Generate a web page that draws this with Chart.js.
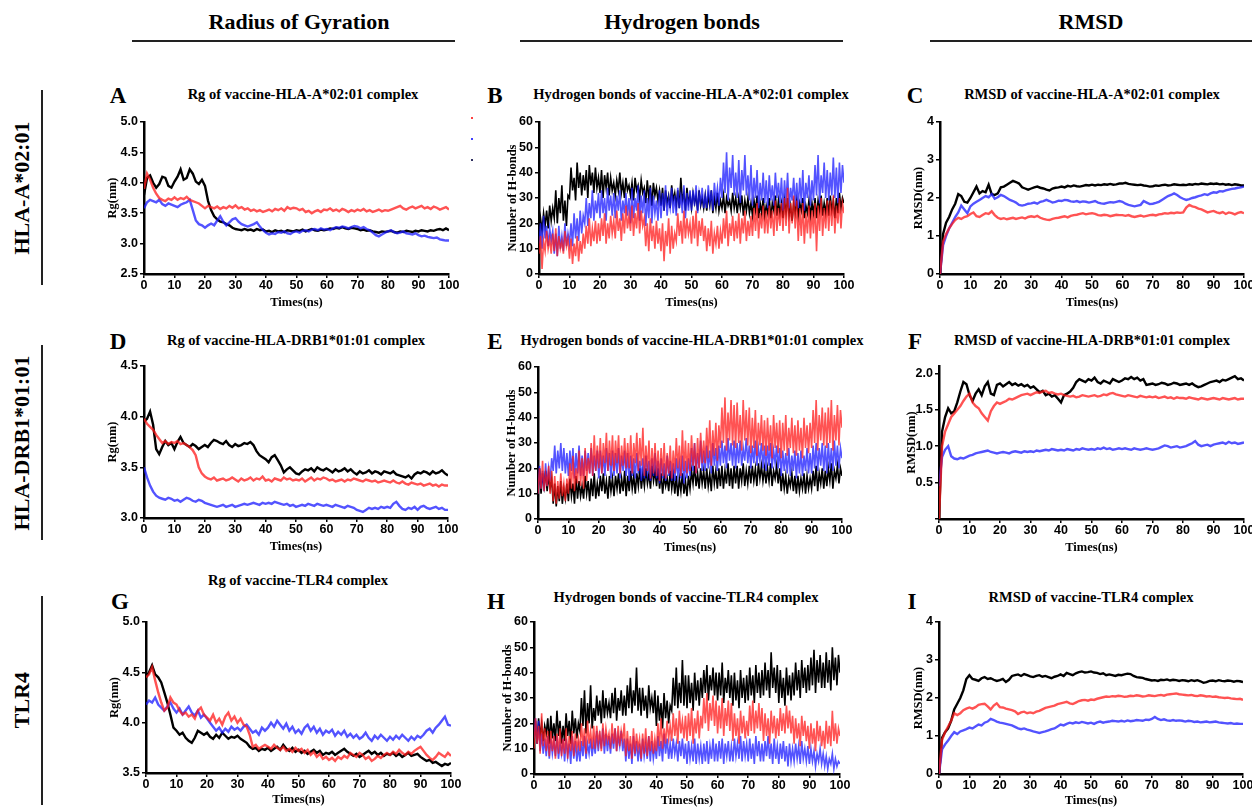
<!DOCTYPE html>
<html>
<head>
<meta charset="utf-8">
<script src="https://cdn.jsdelivr.net/npm/chart.js@4.4.1/dist/chart.umd.min.js"></script>
<style>
body { margin: 0; background: #fff; }
#page { position: relative; width: 1252px; height: 809px; overflow: hidden; font-family: "Liberation Serif", "Times New Roman", serif; color: #000; }
.t { position: absolute; white-space: nowrap; font-weight: bold; transform: translate(-50%, -50%); }
.head { font-size: 22px; }
.ptitle { font-size: 14.5px; }
.letter { font-size: 23px; }
.row { font-size: 22px; transform: translate(-50%, -50%) rotate(-90deg); }
.hl { position: absolute; height: 2px; background: #222; }
.vl { position: absolute; width: 1.5px; background: #222; }
.dot { position: absolute; width: 2px; height: 2px; }
canvas { position: absolute; }
</style>
</head>
<body>
<div id="page">
  <div class="t head" style="left:299px;top:22px">Radius of Gyration</div>
  <div class="t head" style="left:682px;top:22px">Hydrogen bonds</div>
  <div class="t head" style="left:1091px;top:22px">RMSD</div>
  <div class="hl" style="left:132px;top:40px;width:323px"></div>
  <div class="hl" style="left:520px;top:40px;width:323px"></div>
  <div class="hl" style="left:930px;top:40px;width:322px"></div>

  <div class="t row" style="left:22px;top:188px">HLA-A*02:01</div>
  <div class="t row" style="left:22px;top:443px">HLA-DRB1*01:01</div>
  <div class="t row" style="left:22px;top:700px">TLR4</div>
  <div class="vl" style="left:41px;top:90px;height:195px"></div>
  <div class="vl" style="left:41px;top:345px;height:195px"></div>
  <div class="vl" style="left:41px;top:596px;height:209px"></div>

  <div class="t letter" style="left:118px;top:96px">A</div>
  <div class="t letter" style="left:495px;top:96px">B</div>
  <div class="t letter" style="left:915px;top:96px">C</div>
  <div class="t letter" style="left:118px;top:342px">D</div>
  <div class="t letter" style="left:495px;top:342px">E</div>
  <div class="t letter" style="left:915px;top:342px">F</div>
  <div class="t letter" style="left:120px;top:602px">G</div>
  <div class="t letter" style="left:496px;top:602px">H</div>
  <div class="t letter" style="left:912px;top:602px">I</div>

  <div class="t ptitle" style="left:303px;top:94px">Rg of vaccine-HLA-A*02:01 complex</div>
  <div class="t ptitle" style="left:691px;top:94px">Hydrogen bonds of vaccine-HLA-A*02:01 complex</div>
  <div class="t ptitle" style="left:1092px;top:94px">RMSD of vaccine-HLA-A*02:01 complex</div>
  <div class="t ptitle" style="left:296px;top:340px">Rg of vaccine-HLA-DRB1*01:01 complex</div>
  <div class="t ptitle" style="left:692px;top:340px">Hydrogen bonds of vaccine-HLA-DRB1*01:01 complex</div>
  <div class="t ptitle" style="left:1092px;top:340px">RMSD of vaccine-HLA-DRB*01:01 complex</div>
  <div class="t ptitle" style="left:298px;top:580px">Rg of vaccine-TLR4 complex</div>
  <div class="t ptitle" style="left:686px;top:597px">Hydrogen bonds of vaccine-TLR4 complex</div>
  <div class="t ptitle" style="left:1091px;top:597px">RMSD of vaccine-TLR4 complex</div>

  <div class="dot" style="left:471px;top:117px;background:#ff4040"></div>
  <div class="dot" style="left:471px;top:138px;background:#4040ff"></div>
  <div class="dot" style="left:471px;top:159px;background:#303060"></div>

  <canvas id="cA"></canvas>
  <canvas id="cB"></canvas>
  <canvas id="cC"></canvas>
  <canvas id="cD"></canvas>
  <canvas id="cE"></canvas>
  <canvas id="cF"></canvas>
  <canvas id="cG"></canvas>
  <canvas id="cH"></canvas>
  <canvas id="cI"></canvas>
</div>
<script>
// Rg / RMSD series: one value per ns, 0..100
var rgA_black = [3.80,4.08,4.12,4.00,3.92,3.98,4.10,4.08,3.95,3.92,
  4.02,4.10,4.22,4.05,4.08,4.22,4.15,4.02,3.98,4.05,
  3.95,3.70,3.55,3.45,3.40,3.36,3.35,3.32,3.30,3.26,
  3.24,3.23,3.22,3.24,3.22,3.23,3.21,3.24,3.22,3.23,
  3.20,3.21,3.19,3.22,3.20,3.21,3.19,3.22,3.21,3.20,
  3.22,3.21,3.23,3.20,3.22,3.24,3.22,3.21,3.23,3.22,
  3.23,3.25,3.24,3.26,3.25,3.27,3.25,3.24,3.26,3.25,
  3.24,3.22,3.23,3.21,3.22,3.20,3.19,3.18,3.20,3.19,
  3.20,3.21,3.19,3.18,3.20,3.19,3.21,3.20,3.19,3.21,
  3.20,3.22,3.21,3.20,3.22,3.21,3.23,3.24,3.22,3.25,3.22];
var rgA_red = [3.90,4.15,4.05,3.92,3.82,3.75,3.72,3.70,3.74,3.72,
  3.76,3.72,3.75,3.73,3.77,3.72,3.70,3.68,3.66,3.62,
  3.58,3.62,3.60,3.58,3.61,3.57,3.60,3.58,3.62,3.59,
  3.63,3.58,3.60,3.56,3.58,3.54,3.56,3.53,3.55,3.52,
  3.54,3.56,3.53,3.57,3.55,3.58,3.54,3.60,3.57,3.59,
  3.58,3.55,3.57,3.52,3.54,3.50,3.53,3.55,3.52,3.56,
  3.55,3.58,3.54,3.56,3.53,3.57,3.55,3.52,3.55,3.53,
  3.56,3.54,3.57,3.53,3.55,3.52,3.54,3.56,3.53,3.55,
  3.54,3.56,3.58,3.60,3.62,3.58,3.56,3.59,3.61,3.58,
  3.60,3.62,3.58,3.60,3.57,3.61,3.59,3.56,3.58,3.60,3.56];
var rgA_blue = [3.58,3.68,3.72,3.70,3.68,3.72,3.65,3.62,3.66,3.64,
  3.62,3.60,3.64,3.66,3.68,3.72,3.55,3.38,3.32,3.30,
  3.26,3.30,3.33,3.30,3.38,3.45,3.36,3.30,3.35,3.40,
  3.42,3.36,3.32,3.30,3.28,3.30,3.32,3.35,3.28,3.22,
  3.18,3.15,3.17,3.16,3.19,3.18,3.20,3.17,3.16,3.19,
  3.20,3.18,3.21,3.22,3.20,3.23,3.24,3.22,3.25,3.23,
  3.24,3.22,3.25,3.27,3.26,3.28,3.27,3.25,3.27,3.29,
  3.28,3.25,3.27,3.24,3.22,3.18,3.14,3.12,3.15,3.18,
  3.20,3.22,3.19,3.17,3.18,3.20,3.17,3.16,3.15,3.17,
  3.14,3.12,3.13,3.11,3.10,3.09,3.10,3.07,3.06,3.05,3.05];

var rmsdC_black = [0.00,1.05,1.35,1.50,1.70,1.85,2.10,2.05,1.90,1.88,
  2.00,2.15,2.30,2.12,2.18,2.15,2.35,2.10,2.08,2.12,
  2.28,2.30,2.35,2.40,2.45,2.42,2.38,2.28,2.25,2.22,
  2.25,2.28,2.30,2.27,2.25,2.22,2.20,2.25,2.27,2.28,
  2.30,2.28,2.32,2.30,2.33,2.31,2.30,2.32,2.34,2.33,
  2.35,2.33,2.35,2.34,2.36,2.35,2.37,2.35,2.36,2.38,
  2.38,2.40,2.37,2.36,2.35,2.34,2.35,2.33,2.32,2.30,
  2.31,2.33,2.32,2.34,2.35,2.33,2.34,2.36,2.35,2.34,
  2.35,2.34,2.36,2.35,2.37,2.36,2.38,2.37,2.36,2.38,
  2.37,2.38,2.36,2.37,2.35,2.36,2.34,2.36,2.35,2.33,2.33];
var rmsdC_red = [0.00,0.85,1.05,1.20,1.32,1.42,1.48,1.45,1.50,1.52,
  1.58,1.62,1.52,1.50,1.55,1.60,1.58,1.65,1.55,1.48,
  1.45,1.47,1.44,1.46,1.48,1.45,1.47,1.49,1.46,1.50,
  1.52,1.50,1.53,1.48,1.45,1.43,1.42,1.45,1.47,1.48,
  1.50,1.52,1.49,1.53,1.55,1.56,1.58,1.60,1.57,1.59,
  1.60,1.58,1.55,1.54,1.56,1.55,1.52,1.54,1.56,1.55,
  1.55,1.53,1.55,1.52,1.50,1.52,1.54,1.51,1.53,1.55,
  1.56,1.54,1.57,1.58,1.60,1.59,1.61,1.60,1.62,1.61,
  1.62,1.75,1.82,1.78,1.76,1.72,1.70,1.66,1.62,1.64,
  1.66,1.62,1.60,1.63,1.58,1.62,1.60,1.57,1.61,1.63,1.60];
var rmsdC_blue = [0.00,0.75,1.00,1.20,1.35,1.50,1.62,1.80,1.70,1.60,
  1.78,1.85,1.90,1.95,2.00,2.05,2.02,2.10,1.98,2.02,
  2.08,2.05,2.00,1.95,1.92,1.88,1.82,1.80,1.82,1.85,
  1.86,1.88,1.85,1.90,1.92,1.95,1.92,1.88,1.90,1.93,
  1.92,1.95,1.94,1.91,1.90,1.92,1.89,1.91,1.90,1.88,
  1.90,1.92,1.88,1.86,1.85,1.87,1.89,1.88,1.90,1.92,
  1.90,1.85,1.82,1.80,1.78,1.80,1.82,1.92,1.88,1.84,
  1.85,1.87,1.90,1.95,2.00,2.05,2.08,2.12,2.08,2.02,
  1.98,1.95,1.97,2.00,2.02,2.05,2.07,2.10,2.08,2.12,
  2.15,2.14,2.18,2.17,2.20,2.22,2.24,2.25,2.27,2.28,2.30];

var rgD_black = [3.95,3.98,4.05,3.92,3.68,3.63,3.70,3.76,3.72,3.74,
  3.68,3.75,3.80,3.74,3.72,3.70,3.73,3.71,3.68,3.70,
  3.72,3.70,3.74,3.77,3.76,3.74,3.73,3.76,3.72,3.70,
  3.73,3.71,3.72,3.74,3.73,3.75,3.72,3.66,3.62,3.60,
  3.58,3.55,3.60,3.62,3.57,3.52,3.45,3.48,3.50,3.47,
  3.44,3.43,3.46,3.48,3.47,3.49,3.46,3.50,3.48,3.47,
  3.49,3.47,3.45,3.48,3.46,3.47,3.49,3.46,3.48,3.45,
  3.43,3.46,3.44,3.45,3.47,3.44,3.46,3.45,3.43,3.46,
  3.45,3.44,3.46,3.43,3.42,3.41,3.40,3.42,3.39,3.43,
  3.45,3.44,3.46,3.45,3.43,3.46,3.44,3.45,3.47,3.44,3.42];
var rgD_red = [3.98,3.93,3.90,3.87,3.82,3.78,3.74,3.76,3.73,3.75,
  3.74,3.76,3.73,3.74,3.72,3.70,3.67,3.62,3.50,3.44,
  3.41,3.39,3.38,3.40,3.37,3.38,3.39,3.37,3.38,3.40,
  3.38,3.36,3.39,3.37,3.38,3.40,3.37,3.39,3.38,3.41,
  3.37,3.38,3.36,3.39,3.38,3.37,3.40,3.38,3.39,3.37,
  3.38,3.37,3.39,3.36,3.38,3.40,3.37,3.39,3.38,3.40,
  3.39,3.37,3.38,3.36,3.37,3.38,3.36,3.38,3.37,3.39,
  3.38,3.37,3.36,3.38,3.37,3.36,3.37,3.35,3.36,3.37,
  3.36,3.35,3.37,3.35,3.34,3.36,3.34,3.33,3.35,3.34,
  3.33,3.34,3.32,3.33,3.34,3.32,3.33,3.31,3.33,3.32,3.32];
var rgD_blue = [3.50,3.40,3.32,3.26,3.22,3.20,3.19,3.18,3.20,3.19,
  3.17,3.18,3.16,3.18,3.20,3.19,3.17,3.16,3.18,3.17,
  3.15,3.14,3.13,3.12,3.11,3.12,3.13,3.11,3.12,3.13,
  3.11,3.12,3.13,3.14,3.13,3.14,3.15,3.14,3.13,3.15,
  3.14,3.15,3.14,3.16,3.15,3.14,3.13,3.14,3.12,3.13,
  3.11,3.12,3.13,3.12,3.14,3.13,3.12,3.14,3.13,3.12,
  3.13,3.12,3.11,3.13,3.12,3.11,3.10,3.12,3.11,3.10,
  3.08,3.07,3.06,3.08,3.10,3.09,3.10,3.09,3.11,3.10,
  3.11,3.10,3.14,3.16,3.12,3.09,3.08,3.10,3.09,3.11,
  3.08,3.11,3.12,3.10,3.09,3.10,3.11,3.09,3.10,3.08,3.08];

var rmsdF_black = [0.00,1.20,1.40,1.52,1.45,1.48,1.60,1.75,1.88,1.85,
  1.70,1.62,1.72,1.78,1.70,1.82,1.88,1.72,1.70,1.84,
  1.86,1.82,1.85,1.88,1.84,1.86,1.83,1.85,1.82,1.84,
  1.80,1.82,1.78,1.74,1.76,1.70,1.72,1.68,1.70,1.65,
  1.60,1.70,1.72,1.75,1.80,1.88,1.92,1.90,1.88,1.92,
  1.90,1.94,1.88,1.86,1.90,1.88,1.86,1.92,1.90,1.88,
  1.90,1.93,1.92,1.95,1.92,1.94,1.90,1.92,1.84,1.85,
  1.86,1.84,1.85,1.87,1.86,1.84,1.85,1.87,1.86,1.84,
  1.85,1.86,1.84,1.86,1.83,1.81,1.82,1.84,1.86,1.88,
  1.89,1.90,1.88,1.91,1.90,1.92,1.94,1.96,1.92,1.93,1.90];
var rmsdF_red = [0.00,1.00,1.20,1.30,1.40,1.45,1.50,1.55,1.62,1.68,
  1.72,1.60,1.55,1.52,1.45,1.40,1.35,1.48,1.55,1.60,
  1.58,1.60,1.62,1.65,1.64,1.66,1.68,1.70,1.71,1.72,
  1.70,1.72,1.74,1.73,1.75,1.76,1.73,1.74,1.72,1.71,
  1.72,1.70,1.69,1.68,1.69,1.67,1.68,1.70,1.69,1.68,
  1.69,1.70,1.68,1.69,1.71,1.70,1.72,1.73,1.71,1.70,
  1.69,1.68,1.70,1.69,1.68,1.67,1.69,1.68,1.67,1.68,
  1.67,1.68,1.66,1.67,1.68,1.66,1.67,1.65,1.67,1.66,
  1.66,1.65,1.67,1.66,1.65,1.64,1.66,1.65,1.64,1.65,
  1.66,1.65,1.64,1.66,1.65,1.64,1.65,1.66,1.64,1.65,1.65];
var rmsdF_blue = [0.45,0.85,0.95,1.00,0.86,0.83,0.82,0.84,0.83,0.85,
  0.87,0.88,0.90,0.91,0.92,0.93,0.94,0.92,0.91,0.90,
  0.91,0.92,0.91,0.90,0.92,0.93,0.92,0.91,0.93,0.92,
  0.93,0.92,0.94,0.93,0.94,0.95,0.94,0.96,0.95,0.94,
  0.95,0.94,0.96,0.95,0.94,0.96,0.95,0.97,0.96,0.95,
  0.96,0.95,0.97,0.96,0.98,0.96,0.97,0.95,0.96,0.97,
  0.96,0.97,0.96,0.95,0.97,0.96,0.95,0.96,0.97,0.96,
  0.95,0.96,0.97,0.99,1.01,1.00,0.98,0.99,1.00,0.98,
  0.99,1.00,1.02,1.04,1.07,1.02,1.00,1.01,1.02,1.00,
  1.02,1.03,1.04,1.05,1.03,1.06,1.04,1.05,1.03,1.04,1.05];

var rgG_black = [4.45,4.50,4.57,4.48,4.45,4.40,4.30,4.20,4.08,3.95,
  3.92,3.88,3.90,3.85,3.82,3.80,3.85,3.92,3.90,3.88,
  3.90,3.86,3.84,3.88,3.85,3.90,3.87,3.84,3.86,3.85,
  3.87,3.84,3.82,3.80,3.76,3.74,3.75,3.72,3.74,3.73,
  3.75,3.72,3.74,3.76,3.73,3.78,3.74,3.72,3.75,3.71,
  3.73,3.70,3.72,3.69,3.71,3.73,3.70,3.72,3.68,3.70,
  3.69,3.71,3.68,3.70,3.72,3.74,3.71,3.69,3.67,3.69,
  3.66,3.68,3.70,3.72,3.69,3.71,3.68,3.70,3.67,3.69,
  3.68,3.70,3.67,3.69,3.66,3.68,3.70,3.67,3.68,3.69,
  3.66,3.64,3.62,3.63,3.60,3.61,3.59,3.57,3.59,3.58,3.60];
var rgG_red = [4.45,4.48,4.55,4.42,4.30,4.20,4.12,4.15,4.25,4.20,
  4.18,4.12,4.08,4.10,4.06,4.08,4.04,4.12,4.15,4.08,
  4.05,4.02,4.08,4.00,4.04,3.98,4.06,4.10,4.02,4.06,
  4.00,4.04,3.98,3.96,3.88,3.76,3.78,3.74,3.76,3.78,
  3.76,3.74,3.78,3.75,3.73,3.76,3.72,3.74,3.71,3.75,
  3.72,3.74,3.70,3.73,3.68,3.71,3.66,3.69,3.64,3.66,
  3.63,3.65,3.62,3.66,3.64,3.67,3.65,3.70,3.68,3.66,
  3.70,3.68,3.64,3.66,3.62,3.64,3.67,3.65,3.68,3.70,
  3.68,3.71,3.69,3.73,3.70,3.68,3.71,3.69,3.72,3.74,
  3.76,3.72,3.68,3.65,3.63,3.66,3.70,3.68,3.66,3.70,3.67];
var rgG_blue = [4.18,4.22,4.20,4.25,4.18,4.15,4.12,4.16,4.20,4.14,
  4.10,4.14,4.08,4.12,4.16,4.10,4.07,4.12,4.05,4.08,
  4.04,4.00,3.96,3.92,3.95,3.90,3.94,3.91,3.96,3.93,
  3.95,3.92,3.96,3.98,3.94,3.90,3.92,3.88,3.95,3.92,
  3.95,4.00,3.96,4.02,3.98,3.94,3.99,3.92,3.96,3.90,
  3.93,3.89,3.95,3.98,3.92,3.96,3.90,3.94,3.88,3.92,
  3.90,3.93,3.87,3.91,3.88,3.92,3.86,3.89,3.85,3.88,
  3.84,3.86,3.90,3.85,3.82,3.87,3.84,3.88,3.85,3.82,
  3.86,3.83,3.87,3.84,3.88,3.85,3.82,3.86,3.83,3.87,
  3.85,3.88,3.92,3.94,3.90,3.95,3.98,4.02,4.06,3.98,3.97];

var rmsdI_black = [0.00,0.95,1.10,1.20,1.40,1.70,1.85,2.00,2.20,2.50,
  2.60,2.50,2.48,2.45,2.52,2.55,2.50,2.52,2.48,2.45,
  2.47,2.50,2.42,2.48,2.58,2.60,2.62,2.58,2.63,2.60,
  2.57,2.55,2.58,2.60,2.56,2.58,2.55,2.52,2.56,2.58,
  2.62,2.58,2.66,2.63,2.60,2.65,2.68,2.70,2.67,2.68,
  2.70,2.67,2.66,2.63,2.65,2.60,2.62,2.60,2.58,2.61,
  2.60,2.62,2.64,2.63,2.58,2.55,2.54,2.53,2.50,2.48,
  2.46,2.47,2.45,2.48,2.47,2.49,2.46,2.48,2.47,2.45,
  2.47,2.46,2.44,2.47,2.45,2.47,2.44,2.40,2.42,2.45,
  2.46,2.44,2.47,2.45,2.44,2.46,2.45,2.43,2.45,2.44,2.42];
var rmsdI_red = [0.00,0.90,1.10,1.25,1.40,1.60,1.55,1.60,1.68,1.72,
  1.75,1.72,1.76,1.82,1.84,1.85,1.78,1.70,1.80,1.86,
  1.76,1.75,1.72,1.70,1.68,1.65,1.58,1.62,1.64,1.60,
  1.62,1.60,1.64,1.66,1.70,1.74,1.76,1.78,1.80,1.84,
  1.86,1.88,1.90,1.86,1.84,1.88,1.92,1.94,1.95,1.93,
  1.96,1.95,1.98,2.00,2.02,2.04,2.03,2.05,2.04,2.06,
  2.05,2.03,2.04,2.06,2.05,2.07,2.06,2.04,2.05,2.07,
  2.06,2.05,2.07,2.08,2.06,2.09,2.10,2.11,2.12,2.10,
  2.09,2.08,2.07,2.08,2.06,2.05,2.07,2.06,2.04,2.05,
  2.03,2.04,2.02,2.01,2.00,2.01,1.99,1.98,1.97,1.98,1.95];
var rmsdI_blue = [0.00,0.65,0.78,0.88,1.00,1.10,1.05,1.12,1.15,1.18,
  1.22,1.20,1.25,1.30,1.28,1.35,1.38,1.45,1.42,1.38,
  1.35,1.34,1.32,1.30,1.28,1.24,1.20,1.18,1.20,1.17,
  1.15,1.12,1.10,1.08,1.10,1.12,1.15,1.18,1.20,1.25,
  1.30,1.28,1.32,1.35,1.33,1.36,1.34,1.37,1.35,1.33,
  1.35,1.32,1.36,1.38,1.35,1.37,1.38,1.40,1.39,1.38,
  1.40,1.38,1.41,1.39,1.40,1.42,1.41,1.40,1.43,1.42,
  1.45,1.50,1.45,1.42,1.44,1.41,1.40,1.42,1.40,1.41,
  1.40,1.38,1.40,1.39,1.37,1.38,1.36,1.37,1.38,1.36,
  1.37,1.38,1.36,1.35,1.34,1.33,1.34,1.32,1.33,1.32,1.32];

// hydrogen bond counts: one value every 0.5 ns, 0..100
var hbB_black = [15,22,17,24,19,25,18,27,21,26, 22,33,20,30,24,35,21,29,19,31,
  30,42,33,38,29,44,34,40,31,39, 33,41,30,43,35,40,32,42,34,38,
  32,41,30,39,34,40,31,38,33,36, 31,37,33,40,32,36,30,38,33,35,
  31,36,29,38,33,35,30,37,32,34, 28,37,30,35,27,36,31,34,29,33,
  27,34,25,33,28,31,26,35,29,32, 27,33,26,38,29,32,25,34,28,31,
  26,32,28,31,25,33,27,30,26,31, 25,31,27,33,24,30,26,32,25,29,
  26,31,24,30,27,29,25,32,26,30, 24,30,26,31,23,29,25,30,24,28,
  23,29,25,31,22,28,24,30,23,27, 24,30,22,28,25,31,23,29,24,28,
  22,29,24,30,23,27,21,28,24,29, 23,28,25,30,22,27,24,29,23,28,
  24,30,22,29,25,31,23,28,24,30, 23,31,25,29,22,30,24,32,26,30, 28];
var hbB_blue = [12,20,10,23,14,19,11,18,13,17, 8,16,7,19,10,15,9,20,11,16,
  12,20,11,24,14,22,13,25,16,23, 20,30,19,28,22,33,21,29,24,32,
  22,33,24,30,21,34,25,31,23,32, 22,31,25,33,21,29,24,32,23,30,
  20,34,22,30,25,35,21,31,24,33, 19,30,22,34,20,31,24,29,21,33,
  22,32,25,35,23,30,26,34,24,31, 23,34,26,31,24,35,22,32,25,33,
  25,33,27,35,24,32,28,34,26,31, 26,35,28,33,25,36,29,34,27,38,
  30,44,32,48,29,42,34,47,31,40, 30,45,28,41,33,47,31,39,29,43,
  27,38,30,41,26,36,29,40,28,37, 26,39,29,35,27,40,30,36,28,38,
  25,37,28,40,26,34,29,38,27,36, 26,38,28,41,25,36,30,39,27,37,
  29,43,31,47,28,39,32,44,30,41, 29,40,31,46,30,42,28,44,32,43, 36];
var hbB_red = [8,15,2,13,9,17,10,14,8,16, 9,18,7,15,10,13,8,17,11,14,
  6,14,4,12,7,15,5,13,8,16, 10,19,12,22,11,18,13,21,12,20,
  13,22,15,24,12,20,14,23,16,21, 14,25,17,22,13,24,16,27,18,23,
  17,27,15,24,18,28,16,25,19,22, 11,20,9,22,13,19,10,21,12,18,
  9,20,5,17,11,22,8,19,10,16, 13,24,15,21,12,25,14,22,16,20,
  12,23,14,25,11,21,15,22,13,19, 9,18,11,21,8,16,12,19,10,17,
  12,22,14,25,11,20,15,23,13,21, 14,24,12,22,16,25,13,21,15,23,
  15,26,17,28,14,24,18,27,16,25, 16,27,18,25,15,29,17,26,19,28,
  17,30,19,34,16,28,20,31,18,29, 13,26,15,28,12,24,16,27,14,25,
  16,28,9,27,17,30,15,26,18,29, 17,29,19,31,16,27,20,30,18,28, 24];

var hbE_black = [12,20,10,18,13,19,11,17,12,16, 6,14,5,13,7,15,6,12,8,14,
  7,16,9,14,6,17,8,15,9,13, 8,17,10,15,7,16,9,18,8,14,
  9,17,11,18,10,15,8,17,11,16, 9,17,12,18,10,16,11,19,9,17,
  11,19,12,17,10,18,13,20,12,18, 13,20,14,18,12,21,15,19,13,20,
  12,18,10,17,13,16,11,19,12,17, 10,17,9,16,11,18,10,15,9,17,
  12,19,14,21,13,18,12,20,14,19, 12,20,13,18,11,21,14,19,12,20,
  13,21,12,19,14,22,13,20,12,21, 14,21,12,20,15,22,13,19,14,21,
  14,21,15,20,13,22,16,21,15,20, 14,20,15,22,13,19,16,21,14,20,
  11,18,12,17,10,16,13,18,11,17, 10,17,11,16,12,18,10,17,12,16,
  12,19,13,21,11,18,14,20,12,19, 13,20,15,22,12,19,16,21,14,20, 17];
var hbE_blue = [10,21,12,19,11,22,13,20,15,24, 19,29,18,27,20,30,19,28,18,26,
  17,27,19,28,16,26,18,29,17,25, 17,27,19,26,18,28,17,25,19,27,
  16,27,18,25,17,28,19,26,16,27, 17,26,18,28,16,25,19,27,17,26,
  15,25,17,24,16,26,18,23,15,24, 16,25,18,23,15,24,17,26,16,23,
  14,24,16,22,15,25,17,23,15,22, 15,24,17,22,16,25,14,23,16,24,
  17,28,19,30,18,26,20,31,19,27, 19,29,20,27,18,30,21,28,19,29,
  21,31,22,29,20,32,23,30,21,31, 20,30,22,31,21,28,23,32,22,29,
  20,29,22,31,21,28,23,30,20,29, 19,29,21,30,20,27,22,29,20,28,
  17,27,19,26,18,28,17,25,19,27, 16,26,18,27,17,25,19,28,18,26,
  18,29,20,30,19,28,21,30,19,29, 18,30,20,28,19,31,21,29,20,28, 24];
var hbE_red = [10,20,12,23,11,18,13,21,10,19, 7,17,6,15,8,18,9,14,7,16,
  10,22,12,25,11,20,14,27,13,24, 12,28,15,24,18,30,17,33,19,29,
  20,32,18,30,22,34,19,31,21,33, 19,31,22,33,18,29,21,32,20,30,
  20,33,18,30,22,34,19,32,21,36, 17,29,19,31,16,28,18,30,17,27,
  15,28,17,30,16,26,18,29,16,27, 18,32,20,29,17,35,19,31,18,30,
  19,33,21,30,18,32,20,34,22,31, 22,36,24,39,21,35,25,38,23,37,
  28,44,30,48,27,42,31,47,29,45, 28,46,30,41,27,47,31,43,29,44,
  26,40,28,43,25,38,29,41,27,39, 25,40,27,37,24,41,28,38,26,39,
  24,38,27,41,25,36,28,40,26,37, 25,39,27,36,24,40,28,37,26,38,
  28,43,30,47,27,41,31,44,29,42, 28,44,30,47,27,41,31,45,29,43, 36];

var hbH_black = [14,21,12,22,15,20,13,19,16,22, 12,23,14,20,13,25,15,21,12,19,
  13,24,15,21,12,25,16,22,14,20, 17,30,19,33,16,28,20,35,18,26,
  21,31,23,29,20,33,22,30,24,28, 22,32,24,34,21,30,25,33,23,31,
  23,35,26,38,24,33,27,42,25,34, 23,34,25,31,22,35,26,30,24,33,
  19,31,21,28,18,32,22,29,20,27, 25,38,27,42,26,36,28,45,27,39,
  26,39,28,36,25,40,29,37,27,38, 30,41,32,43,29,39,33,42,31,40,
  29,40,31,44,28,38,32,41,30,39, 27,40,29,37,26,41,30,38,28,39,
  29,42,31,39,28,43,32,40,30,41, 31,44,33,41,30,48,34,42,32,43,
  28,41,30,38,27,42,31,39,29,40, 31,44,33,41,30,45,34,42,32,43,
  33,46,35,49,32,45,36,47,34,44, 34,48,36,45,33,50,37,46,35,47, 40];
var hbH_blue = [14,22,12,21,9,16,8,14,7,15, 6,14,8,13,7,15,6,12,8,14,
  5,14,7,12,4,15,6,13,5,11, 5,13,7,15,6,12,8,14,7,13,
  8,17,9,15,10,18,8,16,9,15, 8,16,10,18,9,15,11,17,9,14,
  5,14,6,12,4,15,7,13,5,12, 5,14,7,12,6,15,5,13,6,11,
  6,15,7,13,5,16,8,14,6,12, 6,14,8,12,5,13,7,14,6,12,
  4,13,6,11,5,14,4,12,6,11, 4,12,5,13,4,11,6,14,5,12,
  5,13,6,14,4,12,7,13,5,11, 5,14,7,12,6,15,5,13,7,12,
  5,14,6,12,4,15,7,13,5,12, 5,13,7,15,6,12,4,14,6,11,
  4,12,6,13,5,11,3,12,5,10, 5,12,6,11,4,13,6,10,5,11,
  4,10,5,9,3,8,5,10,4,8, 3,7,2,6,4,8,2,6,3,5, 4];
var hbH_red = [10,22,12,19,8,24,11,18,9,17, 7,17,9,15,6,16,8,18,7,14,
  8,18,6,15,9,17,7,16,10,14, 9,20,11,18,8,21,12,17,10,19,
  10,19,12,17,9,20,11,18,13,16, 10,20,12,18,9,19,11,17,13,20,
  7,17,9,15,6,18,8,16,10,14, 6,16,8,18,7,15,9,17,8,14,
  9,20,11,22,10,18,12,21,14,19, 13,24,15,22,12,25,16,21,14,23,
  13,24,15,26,12,22,16,25,14,23, 18,30,20,32,17,28,21,31,19,29,
  16,27,18,30,15,26,19,29,17,28, 13,24,15,22,12,25,16,23,14,21,
  15,27,17,29,16,25,18,28,17,26, 13,24,15,22,12,25,16,23,14,22,
  15,26,17,24,16,27,18,25,16,23, 12,22,14,20,11,23,15,21,13,19,
  10,20,12,18,9,21,13,19,11,17, 10,21,12,19,11,25,13,20,12,18, 15];

var xTicks = [0, 10, 20, 30, 40, 50, 60, 70, 80, 90, 100];

var RED = "rgba(255, 25, 25, 0.75)";
var BLUE = "rgba(25, 25, 255, 0.75)";
var BLACK = "#000";

var tickFont = { family: "Liberation Sans", size: 12.5, weight: "bold" };
var titleFont = { family: "Liberation Serif", size: 12.5, weight: "bold" };

// box = [plotLeft, plotTop, plotRight, plotBottom] in page pixels
function panel(id, box, y, series, step, lw) {
  var c = document.getElementById(id);
  c.width = box[2] - box[0] + 75;
  c.height = box[3] - box[1] + 55;
  c.style.left = box[0] - 60 + "px";
  c.style.top = box[1] - 10 + "px";

  var colors = [RED, BLUE, BLACK];
  var datasets = series.map(function (s, k) {
    return {
      data: s.map(function (v, i) { return { x: i * step, y: v }; }),
      borderColor: colors[k],
      borderWidth: lw,
      pointRadius: 0,
      tension: 0,
      fill: false,
    };
  });

  var axisGrid = { drawOnChartArea: false, drawTicks: true, tickLength: 4, color: "#000", lineWidth: 1.5 };
  var axisBorder = { display: true, color: "#000", width: 2.5 };

  new Chart(c, {
    type: "line",
    data: { datasets: datasets },
    options: {
      responsive: false,
      animation: false,
      layout: { padding: { left: 0, top: 10, right: 15, bottom: 0 } },
      plugins: { legend: { display: false }, tooltip: { enabled: false } },
      scales: {
        x: {
          type: "linear",
          min: 0,
          max: 100,
          afterFit: function (s) { s.height = 45; },
          afterBuildTicks: function (s) { s.ticks = xTicks.map(function (v) { return { value: v }; }); },
          ticks: { padding: 0, maxRotation: 0, autoSkip: false, color: "#000", font: tickFont },
          grid: axisGrid,
          border: axisBorder,
          title: { display: true, text: "Times(ns)", color: "#000", font: titleFont, padding: { top: 0, bottom: y.xPad } },
        },
        y: {
          type: "linear",
          min: y.min,
          max: y.max,
          afterFit: function (s) { s.width = 60; },
          ticks: {
            stepSize: y.step,
            includeBounds: false,
            padding: 2,
            color: "#000",
            font: tickFont,
            callback: function (v) {
              if (y.hideZero && v === 0) return "";
              return v.toFixed(y.dec);
            },
          },
          grid: axisGrid,
          border: axisBorder,
          title: { display: true, text: y.title, color: "#000", font: titleFont, padding: { top: y.pad, bottom: 0 } },
        },
      },
    },
  });
}

var rgTitle = "Rg(nm)";
var hbTitle = "Number of H-bonds";
var rmsdTitle = "RMSD(nm)";

panel("cA", [144, 122, 449, 274], { min: 2.5, max: 5.0, step: 0.5, dec: 1, title: rgTitle, pad: 21, xPad: 9 },
  [rgA_red, rgA_blue, rgA_black], 1, 2.4);
panel("cB", [539, 122, 844, 274], { min: 0, max: 60, step: 10, dec: 0, title: hbTitle, pad: 26, xPad: 9 },
  [hbB_red, hbB_blue, hbB_black], 0.5, 1.6);
panel("cC", [940, 122, 1244, 274], { min: 0, max: 4, step: 1, dec: 0, title: rmsdTitle, pad: 31, xPad: 9 },
  [rmsdC_red, rmsdC_blue, rmsdC_black], 1, 2.4);
panel("cD", [144, 366, 448, 518], { min: 3.0, max: 4.5, step: 0.5, dec: 1, title: rgTitle, pad: 21, xPad: 9 },
  [rgD_red, rgD_blue, rgD_black], 1, 2.4);
panel("cE", [538, 367, 842, 519], { min: 0, max: 60, step: 10, dec: 0, title: hbTitle, pad: 26, xPad: 9 },
  [hbE_red, hbE_blue, hbE_black], 0.5, 1.6);
panel("cF", [939, 366, 1244, 519], { min: 0, max: 2.1, step: 0.5, dec: 1, hideZero: true, title: rmsdTitle, pad: 25, xPad: 9 },
  [rmsdF_red, rmsdF_blue, rmsdF_black], 1, 2.4);
panel("cG", [146, 622, 451, 773], { min: 3.5, max: 5.0, step: 0.5, dec: 1, title: rgTitle, pad: 21, xPad: 11 },
  [rgG_red, rgG_blue, rgG_black], 1, 2.4);
panel("cH", [534, 622, 840, 774], { min: 0, max: 60, step: 10, dec: 0, title: hbTitle, pad: 26, xPad: 11 },
  [hbH_red, hbH_blue, hbH_black], 0.5, 1.6);
panel("cI", [939, 622, 1243, 774], { min: 0, max: 4, step: 1, dec: 0, title: rmsdTitle, pad: 32, xPad: 11 },
  [rmsdI_red, rmsdI_blue, rmsdI_black], 1, 2.4);
</script>
</body>
</html>
